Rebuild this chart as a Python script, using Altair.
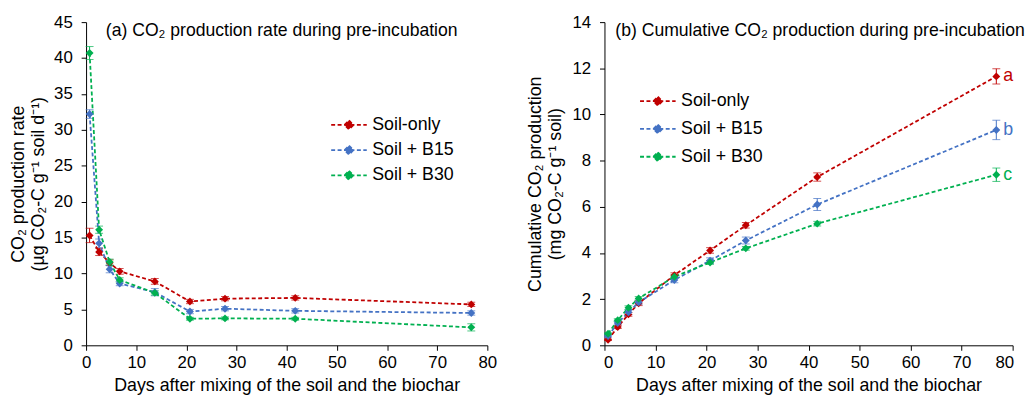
import altair as alt
import pandas as pd

days = [0.7, 2.6, 4.7, 6.7, 13.7, 20.7, 27.7, 41.7, 76.8]
series = ["Soil-only", "Soil + B15", "Soil + B30"]
colors = ["#C00000", "#4472C4", "#00B050"]
letters = ["a", "b", "c"]

# (a) CO2 production rate (µg CO2-C g-1 soil d-1)
rate_soil = [15.3, 13.0, 11.5, 10.3, 8.9, 6.1, 6.5, 6.6, 5.7]
rate_b15 = [32.2, 14.2, 10.6, 8.6, 7.4, 4.7, 5.1, 4.8, 4.5]
rate_b30 = [40.7, 16.1, 11.6, 9.1, 7.3, 3.7, 3.75, 3.7, 2.5]
rate_err_soil = [1.0, 0.5, 0.4, 0.4, 0.4, 0.3, 0.3, 0.3, 0.3]
rate_err_b15 = [0.6, 0.6, 0.5, 0.3, 0.5, 0.3, 0.3, 0.3, 0.3]
rate_err_b30 = [0.9, 0.5, 0.4, 0.3, 0.3, 0.2, 0.2, 0.2, 0.5]

# (b) Cumulative CO2 production (mg CO2-C g-1 soil)
cum_soil = [0.24, 0.79, 1.34, 1.82, 3.04, 4.11, 5.20, 7.29, 11.65]
cum_b15 = [0.40, 0.97, 1.43, 1.86, 2.83, 3.67, 4.54, 6.10, 9.33]
cum_b30 = [0.50, 1.09, 1.63, 2.03, 2.97, 3.59, 4.20, 5.27, 7.39]
cum_err_soil = [0.03, 0.06, 0.08, 0.1, 0.1, 0.12, 0.12, 0.18, 0.33]
cum_err_b15 = [0.05, 0.08, 0.1, 0.1, 0.12, 0.12, 0.15, 0.26, 0.42]
cum_err_b30 = [0.04, 0.06, 0.08, 0.08, 0.08, 0.08, 0.08, 0.1, 0.29]

x_ticks = [0, 10, 20, 30, 40, 50, 60, 70, 80]
rate_ticks = [0, 5, 10, 15, 20, 25, 30, 35, 40, 45]
cum_ticks = [0, 2, 4, 6, 8, 10, 12, 14]

FONT = "Liberation Sans"


def build_df(vals, errs):
    rows = []
    for s, v, e in zip(series, vals, errs):
        for d, y, err in zip(days, v, e):
            rows.append({"day": d, "value": y, "lo": y - err, "hi": y + err, "series": s})
    return pd.DataFrame(rows)


rate_df = build_df([rate_soil, rate_b15, rate_b30], [rate_err_soil, rate_err_b15, rate_err_b30])
cum_df = build_df([cum_soil, cum_b15, cum_b30], [cum_err_soil, cum_err_b15, cum_err_b30])
letter_df = pd.DataFrame({
    "day": [days[-1]] * 3,
    "value": [cum_soil[-1], cum_b15[-1], cum_b30[-1]],
    "series": series,
    "letter": letters,
})

scale = alt.Scale(domain=series, range=colors)
legend_path = "M-2,0L2,0M0,-0.5L0.5,0L0,0.5L-0.5,0Z"


def make_legend(lx, ly, rowpad):
    return alt.Legend(title=None, orient="none", legendX=lx, legendY=ly, padding=0,
                      symbolType=legend_path, symbolSize=324, symbolStrokeWidth=1.8,
                      symbolDash=[4, 2.5], symbolOpacity=1,
                      labelFontSize=18, labelFont=FONT, labelColor="#000000",
                      rowPadding=rowpad, labelOffset=13.5, symbolOffset=0)


def panel(df, ticks, ytitle, title, width, leg, title_dx, flush, ytitle_pad, letters_df=None):
    ymax = ticks[-1]
    if flush:
        xaxis = alt.Axis(values=x_ticks, tickCount=len(x_ticks), labelFlush=True,
                         labelFlushOffset=1,
                         title="Days after mixing of the soil and the biochar")
    else:
        xaxis = alt.Axis(values=x_ticks, tickCount=len(x_ticks), labelFlush=False,
                         title="Days after mixing of the soil and the biochar")
    xscale = alt.Scale(domain=[0, 80], nice=False)
    yaxis = alt.Axis(values=ticks, tickCount=len(ticks), title=ytitle, titlePadding=ytitle_pad)
    yscale = alt.Scale(domain=[0, ymax], nice=False)

    def X():
        return alt.X("day:Q", scale=xscale, axis=xaxis)

    def Y(f):
        return alt.Y(f, scale=yscale, axis=yaxis)

    stroke = alt.Stroke("series:N", scale=scale, legend=leg)
    fill = alt.Fill("series:N", scale=scale, legend=leg)
    base = alt.Chart(df)
    rules = base.mark_rule(strokeWidth=1).encode(
        x=X(), y=Y("lo:Q"), y2="hi:Q", stroke=stroke)
    tick_lo = base.mark_tick(orient="horizontal", size=8, thickness=1).encode(
        x=X(), y=Y("lo:Q"), fill=fill)
    tick_hi = base.mark_tick(orient="horizontal", size=8, thickness=1).encode(
        x=X(), y=Y("hi:Q"), fill=fill)
    line = base.mark_line(strokeDash=[4, 2.5], strokeWidth=1.8).encode(
        x=X(), y=Y("value:Q"), stroke=stroke, detail="series:N")
    pts = base.mark_point(shape="diamond", filled=True, size=64, opacity=1).encode(
        x=X(), y=Y("value:Q"), fill=fill)
    layers = [rules, tick_lo, tick_hi, line, pts]
    if letters_df is not None:
        layers.append(alt.Chart(letters_df).mark_text(
            align="left", dx=7, fontSize=18, font=FONT).encode(
            x=X(), y=Y("value:Q"), text="letter:N", fill=fill))
    return alt.layer(*layers).properties(
        width=width, height=327,
        title=alt.TitleParams(title, anchor="start", dx=title_dx, dy=36, offset=0,
                              baseline="middle", fontSize=17.8, fontWeight="normal",
                              font=FONT, color="#000000", frame="group"))


left = panel(rate_df, rate_ticks, ["CO₂ production rate", "(µg CO₂-C g⁻¹ soil d⁻¹)"],
             "(a) CO₂ production rate during pre-incubation", 406,
             make_legend(256, 94, 6.5), 20, False, 6)
right = panel(cum_df, cum_ticks, ["Cumulative CO₂ production", "(mg CO₂-C g⁻¹ soil)"],
              "(b) Cumulative CO₂ production during pre-incubation", 413,
              make_legend(44, 70, 9.1), 11, True, 8, letters_df=letter_df)

chart = alt.hconcat(left, right, spacing=29.5).resolve_scale(
    stroke="independent", fill="independent"
).configure_view(stroke=None).configure_axis(
    domainColor="#000000", tickColor="#000000", tickSize=5, domainWidth=1, tickWidth=1,
    labelFont=FONT, labelFontSize=17, labelColor="#000000", labelPadding=9,
    labelOverlap=False,
    titleFont=FONT, titleFontSize=18, titleColor="#000000", titleFontWeight="normal",
    grid=False, titleLineHeight=20
).configure_axisX(labelPadding=4, titlePadding=7).properties(
    padding={"left": 2, "top": 3, "right": 0, "bottom": 0})

chart.save("out.html", embed_options={"renderer": "svg", "actions": False})
